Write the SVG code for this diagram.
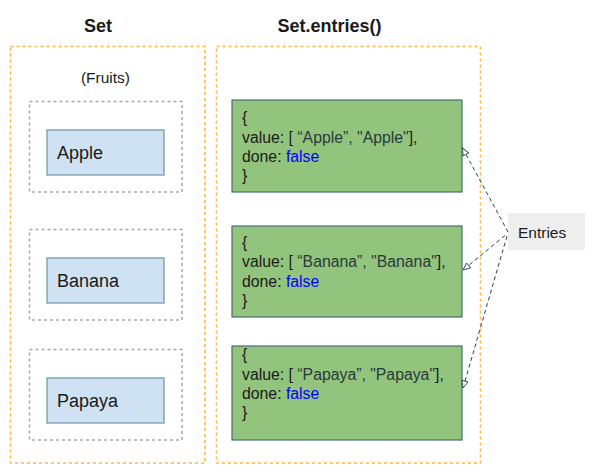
<svg xmlns="http://www.w3.org/2000/svg" width="595" height="473" viewBox="0 0 595 473">
<defs>
<style>
text{font-family:"Liberation Sans",Arial,sans-serif;fill:#1a1a1a}
.title{font-size:18px;font-weight:bold;text-anchor:middle}
.grp{fill:none;stroke:#ffb74d;stroke-width:1.6;stroke-dasharray:3 3}
.slot{fill:none;stroke:#a6a6a6;stroke-width:1.5;stroke-dasharray:3 3}
.item{fill:#cfe2f3;stroke:#6f939f;stroke-width:1.2}
.item-t{font-size:18px}
.entry{fill:#93c47d;stroke:#45706f;stroke-width:1.2}
.entry-t{font-size:15.8px}
.str{fill:#263b3b}
.kw{fill:#0000ff}
.lbl{fill:#eeeeee}
.edge{fill:none;stroke:#23445d;stroke-width:1;stroke-dasharray:4 3}
</style>
<marker id="open" viewBox="0 0 10 10" refX="9" refY="5" markerWidth="9" markerHeight="9" markerUnits="userSpaceOnUse" orient="auto">
<path d="M1,1.5 L9,5 L1,8.5 Z" fill="#ffffff" stroke="#23445d" stroke-width="1"/>
</marker>
</defs>
<rect width="595" height="473" fill="#ffffff"/>

<g id="set-title"><text class="title" x="98" y="32">Set</text></g>
<g id="entries-title"><text class="title" x="329.5" y="32">Set.entries()</text></g>

<g id="set-group"><rect class="grp" x="10.5" y="46.5" width="194.5" height="416.5"/></g>
<g id="entries-group"><rect class="grp" x="216.5" y="46.5" width="264" height="416.5"/></g>

<g id="fruits-label"><text x="105.5" y="83" font-size="15.5" text-anchor="middle">(Fruits)</text></g>

<g id="slot-apple"><rect class="slot" x="29.5" y="101.5" width="152.5" height="90.5"/></g>
<g id="apple"><rect class="item" x="47" y="130" width="117" height="45"/><text class="item-t" x="57" y="158.5">Apple</text></g>

<g id="slot-banana"><rect class="slot" x="29.5" y="229.5" width="152.5" height="90.5"/></g>
<g id="banana"><rect class="item" x="47" y="258" width="117" height="45"/><text class="item-t" x="57" y="286.5">Banana</text></g>

<g id="slot-papaya"><rect class="slot" x="29.5" y="349.5" width="152.5" height="90.5"/></g>
<g id="papaya"><rect class="item" x="47" y="378" width="117" height="45"/><text class="item-t" x="57" y="406.5">Papaya</text></g>

<g id="entry-apple">
<rect class="entry" x="232" y="100" width="230" height="92"/>
<text class="entry-t" x="242" y="123">{</text>
<text class="entry-t" x="242" y="142.5">value: [ <tspan class="str">“Apple”, "Apple"</tspan>],</text>
<text class="entry-t" x="242" y="162">done: <tspan class="kw">false</tspan></text>
<text class="entry-t" x="242" y="181">}</text>
</g>

<g id="entry-banana">
<rect class="entry" x="232" y="226" width="230" height="91"/>
<text class="entry-t" x="242" y="248">{</text>
<text class="entry-t" x="242" y="267.3">value: [ <tspan class="str">“Banana”, "Banana"</tspan>],</text>
<text class="entry-t" x="242" y="286.5">done: <tspan class="kw">false</tspan></text>
<text class="entry-t" x="242" y="306">}</text>
</g>

<g id="entry-papaya">
<rect class="entry" x="232" y="346" width="230" height="94"/>
<text class="entry-t" x="242" y="360">{</text>
<text class="entry-t" x="242" y="379.5">value: [ <tspan class="str">“Papaya”, "Papaya"</tspan>],</text>
<text class="entry-t" x="242" y="398.5">done: <tspan class="kw">false</tspan></text>
<text class="entry-t" x="242" y="418">}</text>
</g>

<g id="entries-label">
<rect class="lbl" x="508" y="213" width="77" height="37"/>
<text x="518" y="238" font-size="15.5">Entries</text>
</g>

<g id="connectors">
<path class="edge" d="M508,232 L462.5,148" marker-end="url(#open)"/>
<path class="edge" d="M505,235.5 L463,270" marker-end="url(#open)"/>
<path class="edge" d="M507,236 L463,388" marker-end="url(#open)"/>
</g>
</svg>
